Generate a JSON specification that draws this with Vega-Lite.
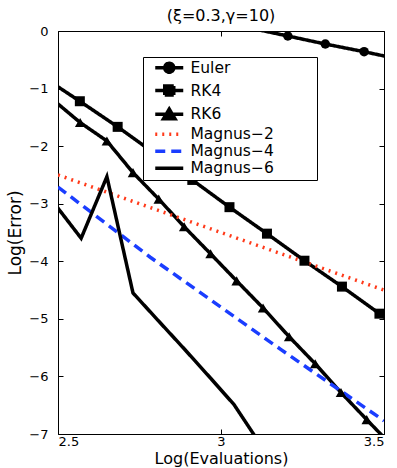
{
  "$schema": "https://vega.github.io/schema/vega-lite/v6.json",
  "width": 326,
  "height": 403,
  "autosize": "none",
  "padding": {"left": 58, "top": 31, "right": 13, "bottom": 34},
  "title": {"text": "(ξ=0.3,γ=10)", "fontSize": 16, "font": "DejaVu Sans", "fontWeight": "normal", "offset": 1, "color": "black"},
  "config": {
    "view": {"stroke": "black", "strokeWidth": 1},
    "font": "DejaVu Sans",
    "axis": {"domain": false, "grid": false, "tickSize": -5, "tickColor": "black", "tickWidth": 1, "labelFont": "DejaVu Sans", "labelFontSize": 13, "labelColor": "black", "titleFont": "DejaVu Sans", "titleFontWeight": "normal", "titleColor": "black"}
  },
  "data": {"values": [
    {"method": "Euler", "x": 2.975, "y": 0.19},
    {"method": "Euler", "x": 3.205, "y": -0.087},
    {"method": "Euler", "x": 3.320, "y": -0.226},
    {"method": "Euler", "x": 3.439, "y": -0.36},
    {"method": "Euler", "x": 3.555, "y": -0.50},
    {"method": "RK4", "x": 2.452, "y": -0.79},
    {"method": "RK4", "x": 2.567, "y": -1.22},
    {"method": "RK4", "x": 2.683, "y": -1.665},
    {"method": "RK4", "x": 2.797, "y": -2.13},
    {"method": "RK4", "x": 2.912, "y": -2.587},
    {"method": "RK4", "x": 3.026, "y": -3.06},
    {"method": "RK4", "x": 3.141, "y": -3.52},
    {"method": "RK4", "x": 3.256, "y": -3.99},
    {"method": "RK4", "x": 3.371, "y": -4.44},
    {"method": "RK4", "x": 3.486, "y": -4.91},
    {"method": "RK4", "x": 3.601, "y": -5.38},
    {"method": "RK6", "x": 2.488, "y": -1.21},
    {"method": "RK6", "x": 2.568, "y": -1.59},
    {"method": "RK6", "x": 2.65, "y": -1.91},
    {"method": "RK6", "x": 2.73, "y": -2.46},
    {"method": "RK6", "x": 2.809, "y": -2.92},
    {"method": "RK6", "x": 2.887, "y": -3.40},
    {"method": "RK6", "x": 2.968, "y": -3.87},
    {"method": "RK6", "x": 3.048, "y": -4.34},
    {"method": "RK6", "x": 3.129, "y": -4.81},
    {"method": "RK6", "x": 3.209, "y": -5.31},
    {"method": "RK6", "x": 3.289, "y": -5.78},
    {"method": "RK6", "x": 3.368, "y": -6.28},
    {"method": "RK6", "x": 3.447, "y": -6.75},
    {"method": "RK6", "x": 3.527, "y": -7.22},
    {"method": "Magnus-2", "x": 2.5, "y": -2.5},
    {"method": "Magnus-2", "x": 3.0, "y": -3.5},
    {"method": "Magnus-2", "x": 3.5, "y": -4.5},
    {"method": "Magnus-4", "x": 2.5, "y": -2.71},
    {"method": "Magnus-4", "x": 2.783, "y": -3.93},
    {"method": "Magnus-4", "x": 3.183, "y": -5.53},
    {"method": "Magnus-4", "x": 3.5, "y": -6.77},
    {"method": "Magnus-6", "x": 2.488, "y": -2.99},
    {"method": "Magnus-6", "x": 2.571, "y": -3.60},
    {"method": "Magnus-6", "x": 2.65, "y": -2.53},
    {"method": "Magnus-6", "x": 2.73, "y": -4.55},
    {"method": "Magnus-6", "x": 2.809, "y": -5.04},
    {"method": "Magnus-6", "x": 2.887, "y": -5.52},
    {"method": "Magnus-6", "x": 2.968, "y": -6.03},
    {"method": "Magnus-6", "x": 3.04, "y": -6.49},
    {"method": "Magnus-6", "x": 3.129, "y": -7.25}
  ]},
  "resolve": {"axis": {"x": "independent", "y": "independent"}},
  "layer": [
    {
      "mark": {"type": "line", "clip": true, "strokeCap": "butt", "strokeJoin": "miter"},
      "encoding": {
        "x": {"field": "x", "type": "quantitative", "scale": {"domain": [2.5, 3.5], "nice": false, "zero": false},
              "axis": {"orient": "bottom", "values": [2.5, 3, 3.5], "format": "~g", "labelPadding": 6, "title": "Log(Evaluations)", "titleFontSize": 16, "titleBaseline": "alphabetic", "titleY": 29.5}},
        "y": {"field": "y", "type": "quantitative", "scale": {"domain": [-7, 0], "nice": false, "zero": false},
              "axis": {"orient": "left", "values": [-7, -6, -5, -4, -3, -2, -1, 0], "format": "d", "labelPadding": 15, "title": "Log(Error)", "titleFontSize": 17, "titlePadding": 4}},
        "color": {"field": "method", "type": "nominal",
          "scale": {"domain": ["Euler", "RK4", "RK6", "Magnus-2", "Magnus-4", "Magnus-6"], "range": ["black", "black", "black", "#ff3a1a", "#1a3dff", "black"]},
          "legend": {
            "title": null, "orient": "none", "legendX": 85, "legendY": 26,
            "padding": 3, "rowPadding": -1.2, "fillColor": "white", "strokeColor": "black",
            "labelFont": "DejaVu Sans", "labelFontSize": 15.5, "labelColor": "black", "labelOffset": 29,
            "symbolSize": 100, "symbolStrokeWidth": 3.5,
            "labelExpr": "replace(datum.label, '-', '−')",
            "encode": {
              "symbols": {"update": {
                "shape": {"signal": "datum.value === 'Euler' ? 'M0.3,0H5.9M2.2,0A0.9,0.9 0 1 1 4.0,0A0.9,0.9 0 1 1 2.2,0ZM30.5,0' : datum.value === 'RK4' ? 'M0.3,0H5.9M2.2,-0.9H4.0V0.9H2.2ZM30.5,0' : datum.value === 'RK6' ? 'M0.3,0H5.9M3.1,-1.05L4.25,0.9H1.95ZM30.5,0' : 'M0.3,0H5.9M30.5,0'"},
                "fill": {"signal": "indexof(['Euler','RK4','RK6'], datum.value) >= 0 ? 'black' : 'transparent'"},
                "strokeDash": {"signal": "datum.value === 'Magnus-2' ? [2,5] : datum.value === 'Magnus-4' ? [10,6] : [1,0]"},
                "strokeWidth": {"signal": "datum.value === 'Magnus-2' ? 2 : 3.5"},
                "opacity": {"value": 1}
              }}
            }
          }},
        "strokeDash": {"field": "method", "type": "nominal",
          "scale": {"domain": ["Euler", "RK4", "RK6", "Magnus-2", "Magnus-4", "Magnus-6"], "range": [[1, 0], [1, 0], [1, 0], [2, 5], [10, 6], [1, 0]]}, "legend": null},
        "strokeWidth": {"field": "method", "type": "nominal",
          "scale": {"domain": ["Euler", "RK4", "RK6", "Magnus-2", "Magnus-4", "Magnus-6"], "range": [3.5, 3.5, 3.5, 2, 3.5, 3.5]}, "legend": null}
      }
    },
    {
      "transform": [{"filter": "indexof(['Euler','RK4','RK6'], datum.method) >= 0"}],
      "mark": {"type": "point", "filled": true, "clip": true, "color": "black", "opacity": 1, "strokeWidth": 0},
      "encoding": {
        "x": {"field": "x", "type": "quantitative", "axis": {"orient": "top", "values": [2.5, 3, 3.5], "labels": false, "title": null}},
        "y": {"field": "y", "type": "quantitative", "axis": {"orient": "right", "values": [-7, -6, -5, -4, -3, -2, -1, 0], "labels": false, "title": null}},
        "shape": {"field": "method", "type": "nominal", "scale": {"domain": ["Euler", "RK4", "RK6"], "range": ["circle", "square", "triangle-up"]}, "legend": null},
        "size": {"field": "method", "type": "nominal", "scale": {"domain": ["Euler", "RK4", "RK6"], "range": [90, 110, 120]}, "legend": null}
      }
    }
  ]
}
